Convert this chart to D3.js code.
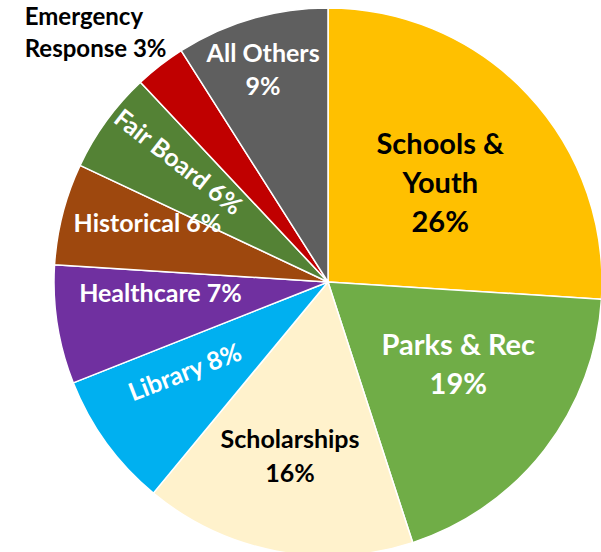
<!DOCTYPE html>
<html>
<head>
<meta charset="utf-8">
<script src="https://cdn.jsdelivr.net/npm/d3@7"></script>
<style>
  body { margin: 0; background: #fff; }
  text { font-family: Lato, "Open Sans", sans-serif; font-weight: bold; }
</style>
</head>
<body>
<div id="chart"></div>
<script>
// slice data, clockwise from 12 o'clock
const categories = ["Schools & Youth", "Parks & Rec", "Scholarships", "Library", "Healthcare",
                    "Historical", "Fair Board", "Emergency Response", "All Others"];
const values = [26, 19, 16, 8, 7, 6, 6, 3, 9];
const labelLines = [
    ["Schools &", "Youth", "26%"],
    ["Parks & Rec", "19%"],
    ["Scholarships", "16%"],
    ["Library 8%"],
    ["Healthcare 7%"],
    ["Historical 6%"],
    ["Fair Board 6%"],
    ["Emergency", "Response 3%"],
    ["All Others", "9%"]
];

const colors = ["#FFC000", "#70AD47", "#FFF2CC", "#00B0F0", "#7030A0",
                "#9E480E", "#548235", "#C00000", "#5F5F5F"];
const textColors = ["#000", "#fff", "#000", "#fff", "#fff", "#fff", "#fff", "#000", "#fff"];

// label placement: distance (fraction of radius), angle shift (deg), rotation, font size, line height
const labelLayout = [
    {k: 0.547, shift: 1.7,  rot: 0,   size: 29, lh: 39, anchor: "middle", dx: 0},
    {k: 0.562, shift: -5.6, rot: 0,   size: 29, lh: 39, anchor: "middle", dx: 0},
    {k: 0.65,  shift: 1.5,  rot: 0,   size: 25, lh: 34, anchor: "middle", dx: 0},
    {k: 0.617, shift: 3.8,  rot: -21, size: 25, lh: 30, anchor: "middle", dx: 0},
    {k: 0.613, shift: 5,    rot: 0,   size: 25, lh: 30, anchor: "middle", dx: 0},
    {k: 0.693, shift: 3.6,  rot: 0,   size: 25, lh: 30, anchor: "middle", dx: 0},
    {k: 0.70,  shift: 2.7,  rot: 38,  size: 25, lh: 30, anchor: "middle", dx: 0},
    {k: 1.255, shift: -5.6, rot: 0,   size: 24, lh: 32, anchor: "start", dx: -67},
    {k: 0.81,  shift: -0.8, rot: 0,   size: 25, lh: 33, anchor: "middle", dx: 0}
];

const width = 601, height = 552;
const cx = 328, cy = 282, radius = 274;

const svg = d3.select("#chart")
    .append("svg")
    .attr("width", width)
    .attr("height", height);

const g = svg.append("g")
    .attr("transform", `translate(${cx},${cy})`);

const pie = d3.pie().sort(null).value(d => d);
const arcs = pie(values);

const arc = d3.arc().innerRadius(0).outerRadius(radius);

g.selectAll("path.slice")
    .data(arcs)
    .enter().append("path")
    .attr("class", "slice")
    .attr("d", arc)
    .attr("fill", (d, i) => colors[i])
    .attr("stroke", "#fff")
    .attr("stroke-width", 1.5)
    .attr("stroke-linejoin", "round");

const labels = g.selectAll("g.label")
    .data(arcs)
    .enter().append("g")
    .attr("class", "label")
    .attr("transform", (d, i) => {
        const L = labelLayout[i];
        const a = (d.startAngle + d.endAngle) / 2 + L.shift * Math.PI / 180;
        const x = Math.sin(a) * radius * L.k;
        const y = -Math.cos(a) * radius * L.k;
        return `translate(${x},${y}) rotate(${L.rot})`;
    });

labels.each(function(d, i) {
    const L = labelLayout[i];
    const lines = labelLines[i];
    const t = d3.select(this).append("text")
        .attr("text-anchor", L.anchor)
        .attr("fill", textColors[i])
        .style("font-size", L.size + "px");
    lines.forEach((line, j) => {
        t.append("tspan")
            .attr("x", L.dx)
            .attr("y", (j - (lines.length - 1) / 2) * L.lh)
            .attr("dy", "0.35em")
            .text(line);
    });
});
</script>
</body>
</html>
